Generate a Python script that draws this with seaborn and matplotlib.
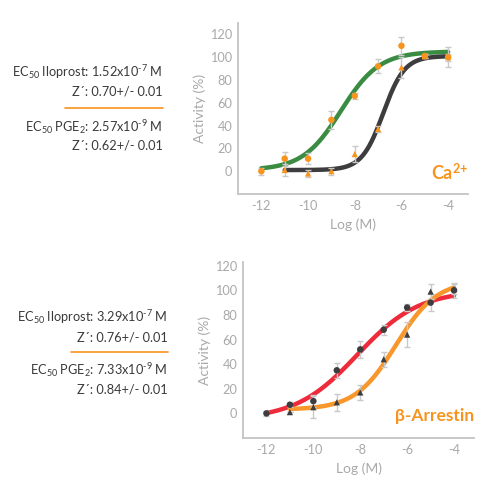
import numpy as np
import pandas as pd
import matplotlib
matplotlib.use("Agg")
import matplotlib.pyplot as plt
import seaborn as sns

sns.set_theme(style="white")
plt.rcParams['font.family'] = ['Lato', 'DejaVu Sans']
plt.rcParams['mathtext.fontset'] = 'custom'
plt.rcParams['mathtext.rm'] = 'Lato'
plt.rcParams['mathtext.it'] = 'Lato:italic'
plt.rcParams['mathtext.bf'] = 'Lato:bold'

# ---- data: Ca2+ assay ----
ca_x_pge2 = [-12, -11, -10, -9, -8, -7, -6, -5, -4]
ca_y_pge2 = [0, 11, 11, 45, 66, 92, 110, 101, 100]
ca_e_pge2 = [3, 6, 5, 8, 3, 6, 8, 2, 9]
ca_x_ilo = [-11, -10, -9, -8, -7, -6, -5, -4]
ca_y_ilo = [1, -2, 0, 15, 37, 91, 101, 100]
ca_e_ilo = [5, 3, 3, 7, 3, 9, 2, 3]
# fitted 4PL params: bottom, top, logEC50, hill
ca_fit_pge2 = (1, 105, -8.59, 0.53)
ca_fit_ilo = (1, 101, -6.78, 0.95)

# ---- data: beta-arrestin assay ----
ba_x_pge2 = [-12, -11, -10, -9, -8, -7, -6, -5, -4]
ba_y_pge2 = [0, 7, 10, 35, 52, 68, 86, 90, 100]
ba_e_pge2 = [2, 2, 5, 6, 7, 4, 3, 7, 6]
ba_x_ilo = [-11, -10, -9, -8, -7, -6, -5, -4]
ba_y_ilo = [1, 5, 9, 17, 44, 64, 99, 101]
ba_e_ilo = [0, 9, 7, 6, 6, 10, 6, 4]
ba_fit_pge2 = (-5, 100, -8.13, 0.33)
ba_fit_ilo = (3, 108, -6.48, 0.5)

x_ticks = [-12, -10, -8, -6, -4]
y_ticks = [0, 20, 40, 60, 80, 100, 120]

ORANGE = '#f7941d'
GREEN = '#3b8c43'
DARK = '#3d3d3f'
RED = '#ee2b3b'
ORANGE_C = '#f7972c'
GRAY_T = '#a9a9a9'
ERR = '#c9c9c9'
TXT = '#3a3a3a'
HY = '\u2010'


def four_pl(x, p):
    b, t, ec, h = p
    return b + (t - b) / (1 + 10 ** ((ec - x) * h))


def draw_panel(ax, fits, pts, mcol, ylim):
    for (x0, p, col) in fits:
        xs = np.linspace(x0, -4, 300)
        df = pd.DataFrame({'x': xs, 'y': four_pl(xs, p)})
        sns.lineplot(data=df, x='x', y='y', ax=ax, color=col, lw=3.2,
                     zorder=2, solid_capstyle='round')
    for (xv, yv, ev, mk) in pts:
        ax.errorbar(xv, yv, yerr=ev, fmt='none', ecolor=ERR, elinewidth=1.0,
                    capsize=2.5, capthick=1.0, zorder=3)
    for (xv, yv, ev, mk) in pts:
        df = pd.DataFrame({'x': xv, 'y': yv})
        sns.scatterplot(data=df, x='x', y='y', ax=ax, color=mcol, marker=mk,
                        s=22 if mk == 'o' else 20, edgecolor='none', zorder=4)
    ax.set_xlim(-13, -3.15)
    ax.set_ylim(*ylim)
    ax.set_xticks(x_ticks)
    ax.set_xticklabels(['-' + str(abs(v)) for v in x_ticks])
    ax.set_yticks(y_ticks)
    ax.tick_params(length=0, labelsize=9.2, colors=GRAY_T, pad=4)
    ax.set_xlabel('Log (M)', fontsize=10, color=GRAY_T, labelpad=5)
    ax.set_ylabel('Activity (%)', fontsize=10, color=GRAY_T, labelpad=3)
    for s in ['top', 'right']:
        ax.spines[s].set_visible(False)
    for s in ['left', 'bottom']:
        ax.spines[s].set_color('#c4c4c4')
        ax.spines[s].set_linewidth(1.3)


fig = plt.figure(figsize=(5, 5), dpi=100)
ax1 = fig.add_axes([0.476, 0.612, 0.46, 0.342])
ax2 = fig.add_axes([0.486, 0.124, 0.462, 0.352])

draw_panel(ax1,
           [(-12, ca_fit_pge2, GREEN), (-11, ca_fit_ilo, DARK)],
           [(ca_x_pge2, ca_y_pge2, ca_e_pge2, 'o'),
            (ca_x_ilo, ca_y_ilo, ca_e_ilo, '^')],
           ORANGE, (-20, 130))
draw_panel(ax2,
           [(-12, ba_fit_pge2, RED), (-11, ba_fit_ilo, ORANGE_C)],
           [(ba_x_pge2, ba_y_pge2, ba_e_pge2, 'o'),
            (ba_x_ilo, ba_y_ilo, ba_e_ilo, '^')],
           DARK, (-20, 123))

fig.text(468 / 500, 1 - 173 / 500, r'Ca$^{\mathbf{2{+}}}$', ha='right', va='center',
         fontsize=13, color=ORANGE, fontweight='bold')
fig.text(474 / 500, 1 - 416 / 500, 'β-Arrestin', ha='right', va='center',
         fontsize=12.5, color=ORANGE, fontweight='bold')


def block(xr, ys, yline, xl, lines):
    for y, s in zip(ys, lines):
        fig.text(xr / 500, 1 - y / 500, s, ha='right', va='center',
                 fontsize=9.2, color=TXT)
    fig.add_artist(plt.Line2D([xl / 500, xr / 500], [1 - yline / 500, 1 - yline / 500],
                              color=ORANGE, lw=1.2))


block(163, [72, 92, 127, 146], 108, 65,
      [r'EC$_{50}$ Iloprost: 1.52x10$^{' + HY + '7}$ M', 'Z´: 0.70+/- 0.01',
       r'EC$_{50}$ PGE$_{2}$: 2.57x10$^{' + HY + '9}$ M', 'Z´: 0.62+/- 0.01'])
block(168, [317, 337, 370, 390], 352, 71,
      [r'EC$_{50}$ Iloprost: 3.29x10$^{' + HY + '7}$ M', 'Z´: 0.76+/- 0.01',
       r'EC$_{50}$ PGE$_{2}$: 7.33x10$^{' + HY + '9}$ M', 'Z´: 0.84+/- 0.01'])

fig.savefig('out.png', dpi=100)
